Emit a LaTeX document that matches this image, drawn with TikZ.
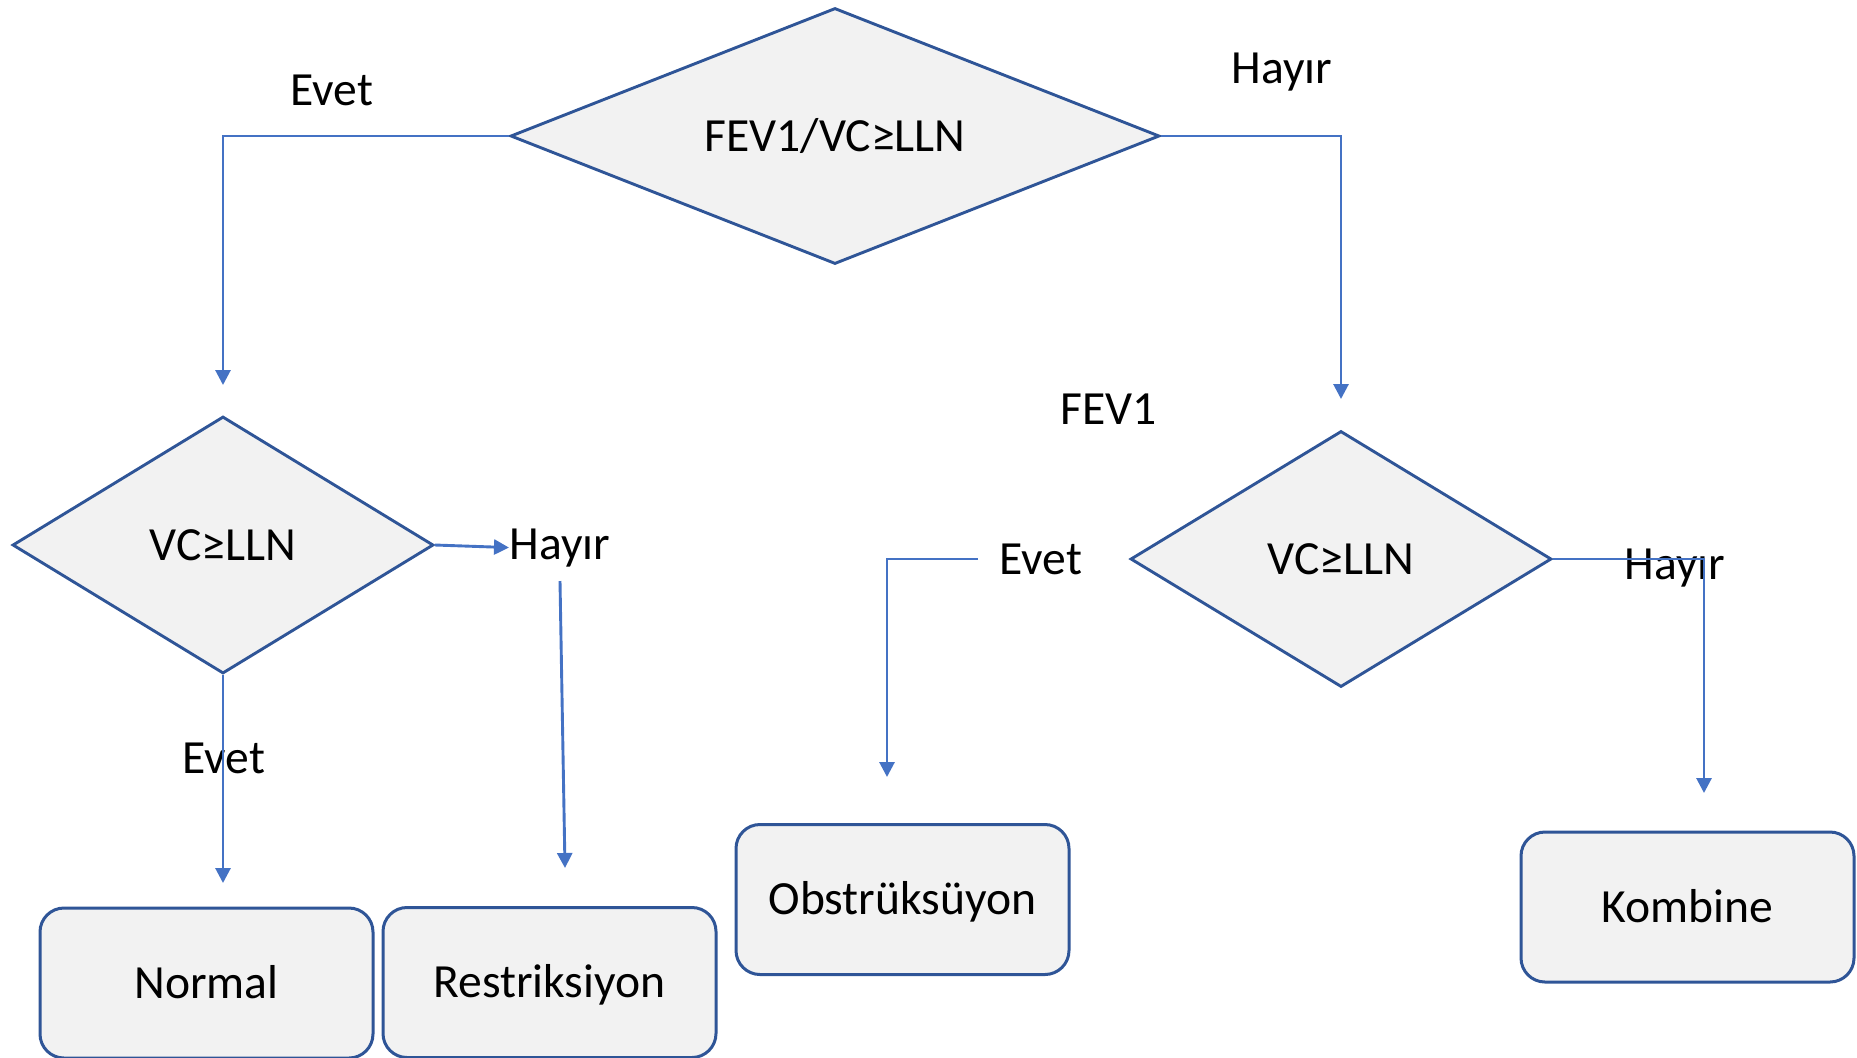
\documentclass[tikz,border=0pt]{standalone}
\usepackage{fontspec}
\setmainfont{Carlito}
\usetikzlibrary{shapes.geometric,arrows.meta}
\definecolor{dblue}{HTML}{2F5597}
\definecolor{cblue}{HTML}{4472C4}
\definecolor{fillg}{HTML}{F2F2F2}
\begin{document}
\begin{tikzpicture}[x=0.5pt,y=-0.5pt,
  font=\fontsize{23.8pt}{28pt}\selectfont,
  dec/.style={diamond, draw=dblue, fill=fillg, line width=1.45pt, inner sep=0pt,
              text height=15.3pt, text depth=0pt},
  res/.style={rectangle, rounded corners=12pt, draw=dblue, fill=fillg, line width=1.5pt,
              minimum width=166.5pt, minimum height=75pt, inner sep=0pt,
              text height=15.3pt, text depth=0pt},
  lbl/.style={inner sep=0pt, anchor=base west},
  conn/.style={draw=cblue, line width=1.45pt, -{Triangle[width=7.5pt,length=7.5pt]}}]
\useasboundingbox (0,0) rectangle (1857,1057);
\clip (0,0) rectangle (1857,1057);

% decisions
\node[dec, aspect=2.5, minimum width=324.5pt, minimum height=128pt] (d1) at (835,136) {FEV1/VC≥LLN};
\node[dec, aspect=1.6, minimum width=210.5pt, minimum height=128.5pt] (d2) at (223,545) {VC≥LLN};
\node[dec, aspect=1.6, minimum width=210.5pt, minimum height=128pt] (d3) at (1341,559) {VC≥LLN};

% results
\node[res] (r1) at (206.5,983) {Normal};
\node[res] (r2) at (549.5,982.5) {Restriksiyon};
\node[res] (r3) at (902.5,899.5) {Obstrüksüyon};
\node[res] (r4) at (1687.5,907) {Kombine};

% labels
\node[lbl] (e1) at (290,105) {Evet};
\node[lbl] (h1) at (1231,83) {Hayır};
\node[lbl] (f1) at (1060,424) {FEV1};
\node[lbl] (h2) at (509,559) {Hayır};
\node[lbl] (e2) at (999,574) {Evet};
\node[lbl] (e3) at (182,773) {Evet};
\node[lbl] (h3) at (1624,579) {Hayır};

% connectors
\coordinate (a1) at (223,385);
\draw[conn] (d1.west) -| (a1);
\coordinate (a2) at (1341,399);
\draw[conn] (d1.east) -| (a2);
\draw[conn] (d2.east) -- (h2.west);
\coordinate (a4s) at (560,581);
\coordinate (a4) at (565,868);
\draw[conn] (a4s) -- (a4);
\coordinate (a5) at (223,883);
\draw[conn] (d2.south) -- (a5);
\coordinate (a6s) at (978,559);
\coordinate (a6) at (887,777);
\draw[conn] (a6s) -| (a6);
\coordinate (a7) at (1704,793);
\draw[conn] (d3.east) -| (a7);
\end{tikzpicture}
\end{document}
